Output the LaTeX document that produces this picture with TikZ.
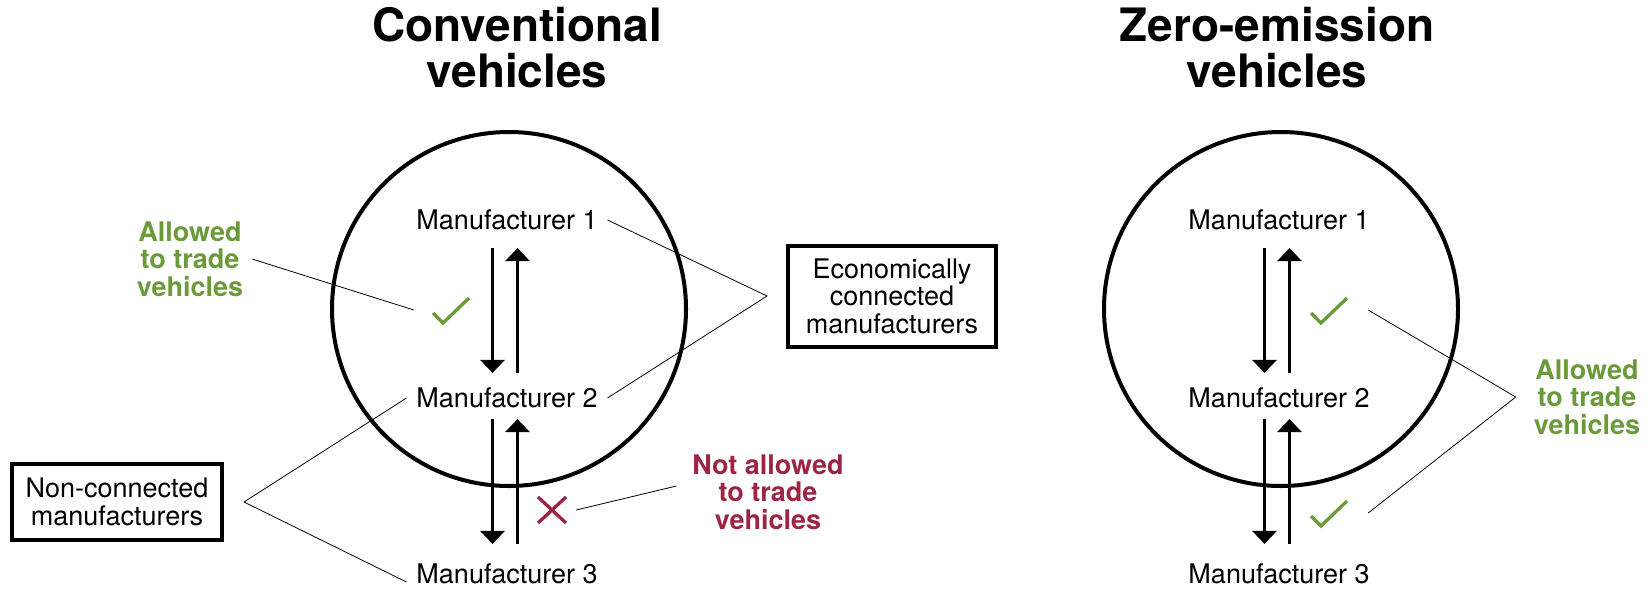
\documentclass[tikz,border=0pt]{standalone}
\usepackage{fontspec}
\setmainfont{TeX Gyre Heros}
\usetikzlibrary{arrows.meta,calc}

\definecolor{tradeGreen}{RGB}{107,154,59}
\definecolor{tradeRed}{RGB}{156,37,67}

\tikzset{
  mfr/.style={inner sep=0pt, outer sep=10pt, font=\fontsize{27}{27.5}\selectfont},
  headline/.style={inner sep=0pt, align=center, font=\fontsize{46}{46}\selectfont\bfseries},
  note/.style={inner sep=0pt, align=center, font=\fontsize{27}{27.5}\selectfont\bfseries},
  frameBox/.style={draw, line width=4pt, align=center, inner sep=0pt, font=\fontsize{27}{27.5}\selectfont},
  groupRing/.style={draw, circle, line width=4pt, minimum size=354pt, inner sep=0pt},
  markSpot/.style={inner sep=0pt, minimum width=76pt, minimum height=30pt},
  tradeArrow/.style={line width=3.5pt, -{Triangle[width=24pt,length=13pt]}},
  leaderLine/.style={line width=0.8pt},
  tickLine/.style={draw=tradeGreen, line width=3.3pt},
  crossLine/.style={draw=tradeRed, line width=3.3pt}
}

% two opposite arrows between two manufacturers
\newcommand{\tradePair}[4]{
  \draw[tradeArrow, shorten <=#3, shorten >=#4] ([xshift=-14.5pt]#1.south) -- ([xshift=-14.5pt]#2.north);
  \draw[tradeArrow, shorten <=#4, shorten >=#3] ([xshift=10.5pt]#2.north) -- ([xshift=10.5pt]#1.south);
}
\newcommand{\tickMark}[1]{
  \draw[tickLine] ($(#1)+(-19,3)$) -- ($(#1)+(-9,13)$) -- ($(#1)+(17,-12)$);
}
\newcommand{\crossMark}[1]{
  \draw[crossLine] ($(#1)+(-14,-13)$) -- ($(#1)+(14,13)$);
  \draw[crossLine] ($(#1)+(-14,13)$) -- ($(#1)+(14,-13)$);
}

\begin{document}
\begin{tikzpicture}[x=1pt, y=-1pt]
  \useasboundingbox (0,0) rectangle (1651,589);

  % conventional vehicles
  \node (titleConv) [headline] at (517,48) {Conventional\\vehicles};
  \node (ringConv) [groupRing] at (509,309) {};
  \node (convOne) [mfr] at (507,220) {Manufacturer 1}; \node (convTwo)
  [mfr] at (507,398) {Manufacturer 2}; \node (convThree) [mfr] at
  (507,574) {Manufacturer 3};
  \tradePair{convOne}{convTwo}{8pt}{5pt};
  \tradePair{convTwo}{convThree}{1pt}{10pt};

  \node (tickConv) [markSpot] at (452,310) {}; \tickMark{tickConv};
  \node (crossConv) [markSpot, minimum width=48pt] at (552,510) {};
  \crossMark{crossConv};

  \node (allowedConv) [note, text=tradeGreen, outer sep=9pt] at
  (190,259) {Allowed\\to trade\\vehicles};
  \draw[leaderLine] (allowedConv.east) -- (tickConv.west);

  \node (notAllowed) [note, text=tradeRed, outer sep=16pt] at
  (768,492) {Not allowed\\to trade\\vehicles};
  \draw[leaderLine] ([yshift=6pt]notAllowed.west) -- (crossConv.east);

  \node (econBox) [frameBox, minimum width=208pt, minimum height=101pt]
  at (892,296) {Economically\\connected\\manufacturers};
  \coordinate (econTip) at ([xshift=-19pt]econBox.west);
  \draw[leaderLine] (convOne.east) -- (econTip) -- (convTwo.east);

  \node (nonConn) [frameBox, minimum width=210pt, minimum height=76pt]
  at (117,502) {Non-connected\\manufacturers};
  \coordinate (nonConnTip) at ([xshift=20pt]nonConn.east);
  \draw[leaderLine] (convTwo.west) -- (nonConnTip) --
  ([yshift=-8pt]convThree.west);

  % zero-emission vehicles
  \node (titleZero) [headline] at (1277,48) {Zero-emission\\vehicles};
  \node (ringZero) [groupRing] at (1281,309) {};
  \node (zeroOne) [mfr] at (1279,220) {Manufacturer 1}; \node (zeroTwo)
  [mfr] at (1279,398) {Manufacturer 2}; \node (zeroThree) [mfr] at
  (1279,574) {Manufacturer 3};
  \tradePair{zeroOne}{zeroTwo}{8pt}{5pt};
  \tradePair{zeroTwo}{zeroThree}{1pt}{10pt};

  \node (tickZeroA) [markSpot] at (1330,310) {}; \tickMark{tickZeroA};
  \node (tickZeroB) [markSpot] at (1330,513) {}; \tickMark{tickZeroB};

  \node (allowedZero) [note, text=tradeGreen] at (1587,397)
  {Allowed\\to trade\\vehicles};
  \coordinate (allowedZeroTip) at ([xshift=-18pt]allowedZero.west);
  \draw[leaderLine] (tickZeroA.east) -- (allowedZeroTip) --
  (tickZeroB.east);
\end{tikzpicture}
\end{document}
